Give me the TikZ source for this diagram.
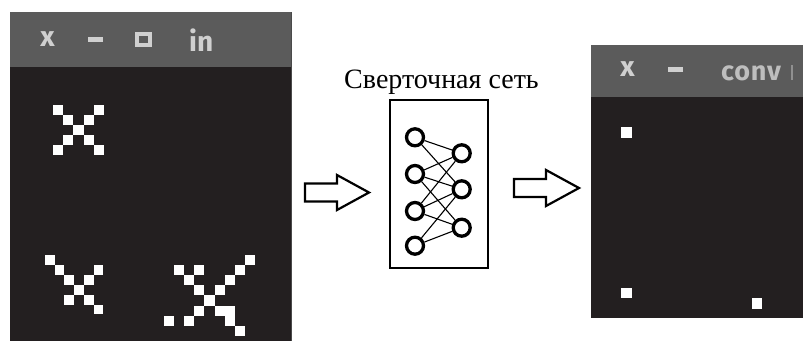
\documentclass[tikz,border=0pt]{standalone}
\usepackage{fontspec}
\setmainfont{Liberation Serif}
\newfontfamily\barfont{Fira Sans}
\newfontfamily\barwidefont[LetterSpace=3]{Fira Sans}
\definecolor{barGray}{HTML}{5B5B5B}
\definecolor{bodyDark}{HTML}{231F20}
\definecolor{iconGray}{HTML}{D0D0D0}
\definecolor{edgeGray}{HTML}{4A4A4A}
\begin{document}
\begin{tikzpicture}[x=1pt,y=-1pt,
  pixel/.style={fill=white},
  icon/.style={fill=iconGray},
  bartext/.style={text=iconGray, inner sep=0pt},
  neuron/.style={circle, draw, line width=3.3pt, minimum size=17pt, inner sep=0pt},
  synapse/.style={line width=1.1pt},
  blockarrow/.style={draw, line width=2.2pt, line join=miter, fill=white}]
\useasboundingbox (0,0) rectangle (803,341);
\fill[white] (0,0) rectangle (803,341);

% ---- input window ----
\fill[barGray] (10,12) rectangle (292,67);
\fill[bodyDark] (10,67) rectangle (292,341);
\draw[edgeGray, line width=1.2pt] (291.4,12) -- (291.4,341);
\node[bartext, font=\barfont\bfseries\fontsize{28}{28}\selectfont] (closeA) at (47.5,39.5) {x};
\fill[icon] (88,37.3) rectangle (103,41.7);
\draw[iconGray, line width=4pt] (137,34.3) rectangle (149.7,44.7);
\node[bartext, anchor=base west, font=\barfont\bfseries\fontsize{28}{28}\selectfont] (titleA) at (189,51) {in};

% glyphs drawn as pixels
\foreach \c/\r in {0/0,4/0,1/1,3/1,2/2,1/3,3/3,0/4,4/4}
  \fill[pixel] ({53+10.2*\c},{105+10*\r}) rectangle ++(10.2,10);
\foreach \c/\r in {0/0,1/1,5/1,2/2,4/2,3/3,2/4,4/4,5/5}
  \fill[pixel] ({45+9.7*\c},{255+9.9*\r}) rectangle ++(9.7,9.9);
\foreach \c/\r in {8/0,1/1,3/1,7/1,2/2,6/2,3/3,5/3,4/4,3/5,5/5,6/5,0/6,2/6,6/6,7/7}
  \fill[pixel] ({164+10.1*\c},{255+10.1*\r}) rectangle ++(10.1,10.1);

% ---- output window ----
\fill[barGray] (591,45) rectangle (803,97);
\fill[bodyDark] (591,97) rectangle (803,318);
\node[bartext, font=\barfont\bfseries\fontsize{28}{28}\selectfont] (closeB) at (627.5,69) {x};
\fill[icon] (668,67) rectangle (683,71.5);
\node[bartext, text=iconGray!85!barGray, anchor=base west, font=\barwidefont\bfseries\fontsize{27}{27}\selectfont] (titleB) at (721,80) {conv};
\fill[iconGray!45!barGray] (790.5,65) rectangle (792.5,79.5);
\fill[pixel] (621,127) rectangle ++(10.5,10.5);
\fill[pixel] (621,287.5) rectangle ++(10.5,10.5);
\fill[pixel] (751.5,298) rectangle ++(10.5,10.5);

% ---- network ----
\node[anchor=base, inner sep=0pt, font=\fontsize{28}{28}\selectfont] (netlabel) at (441.5,88.3) {Сверточная сеть};
\node[draw, line width=2.2pt, minimum width=98pt, minimum height=168pt, inner sep=0pt] (net) at (439,184) {};

\node[neuron] (l1) at (415,137.3) {};
\node[neuron] (l2) at (415,174) {};
\node[neuron] (l3) at (415,211) {};
\node[neuron] (l4) at (415,245.7) {};
\node[neuron] (r1) at (461.7,153.3) {};
\node[neuron] (r2) at (461.7,189.3) {};
\node[neuron] (r3) at (461.7,227.7) {};

\foreach \a/\b in {l1/r1,l1/r2,l2/r1,l2/r2,l2/r3,l3/r1,l3/r2,l3/r3,l4/r2,l4/r3}
  \draw[synapse] (\a) -- (\b);

% ---- block arrows ----
\draw[blockarrow] (305,183.5) -- (337,183.5) -- (337,175) -- (369,192.5)
  -- (337,210) -- (337,201.5) -- (305,201.5) -- cycle;
\draw[blockarrow] (514,179) -- (546,179) -- (546,170) -- (579,188)
  -- (546,206) -- (546,197) -- (514,197) -- cycle;
\end{tikzpicture}
\end{document}
